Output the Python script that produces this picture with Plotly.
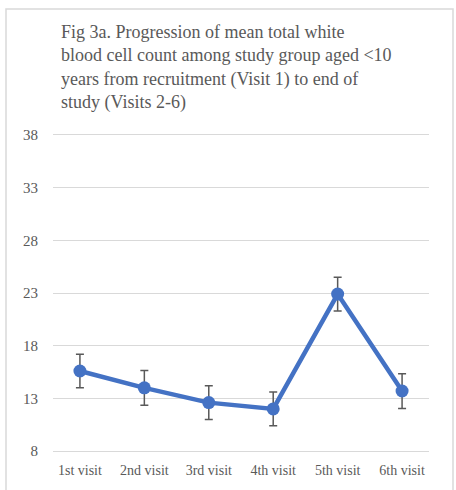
import plotly.graph_objects as go

# Mean total WBC count per visit, with error margins
visits = ["1st visit", "2nd visit", "3rd visit", "4th visit", "5th visit", "6th visit"]
mean_wbc = [15.6, 14.0, 12.6, 12.0, 22.9, 13.7]
err_wbc = [1.6, 1.65, 1.6, 1.6, 1.6, 1.65]
y_ticks = [8, 13, 18, 23, 28, 33, 38]

SERIF = "Liberation Serif, Times New Roman, Times, serif"

W, H = 456, 490
ML, MR, MT, MB = 53, 27, 133, 32
PW, PH = W - ML - MR, H - MT - MB

def px_x(X):
    return (X - ML) / PW

def px_y(Y):
    return (H - MB - Y) / PH

fig = go.Figure()
fig.add_trace(go.Scatter(
    x=visits, y=mean_wbc,
    mode="lines+markers",
    line=dict(color="#4472C4", width=4.5),
    marker=dict(color="#4472C4", size=13),
    error_y=dict(type="data", array=err_wbc, visible=True,
                 color="#595959", thickness=1.5, width=4),
    showlegend=False,
))

fig.update_layout(
    width=W, height=H,
    margin=dict(l=ML, r=MR, t=MT, b=MB),
    paper_bgcolor="white", plot_bgcolor="white",
    font=dict(family=SERIF, color="#595959", size=14),
    xaxis=dict(showgrid=False, showline=False, zeroline=False, ticks="",
               ticklabelstandoff=7,
               tickfont=dict(family=SERIF, size=14, color="#595959")),
    yaxis=dict(range=[7.82, 38.18], tickvals=y_ticks, showgrid=True,
               gridcolor="#d9d9d9", gridwidth=1, zeroline=False,
               showline=False, ticks="", ticklabelstandoff=14,
               tickfont=dict(family=SERIF, size=15, color="#595959")),
    shapes=[dict(type="rect", xref="paper", yref="paper",
                 x0=px_x(6), x1=px_x(453), y0=px_y(500), y1=px_y(7),
                 line=dict(color="#d9d9d9", width=1.5), layer="below")],
    annotations=[dict(
        text="Fig 3a. Progression of mean total white<br>"
             "blood cell count among study group aged &lt;10<br>"
             "years from recruitment (Visit 1) to end of<br>"
             "study (Visits 2-6)",
        xref="paper", yref="paper", x=px_x(59), y=px_y(18),
        xanchor="left", yanchor="top", align="left", showarrow=False,
        font=dict(family=SERIF, size=18, color="#595959"))],
)

fig.write_html("out.html")
